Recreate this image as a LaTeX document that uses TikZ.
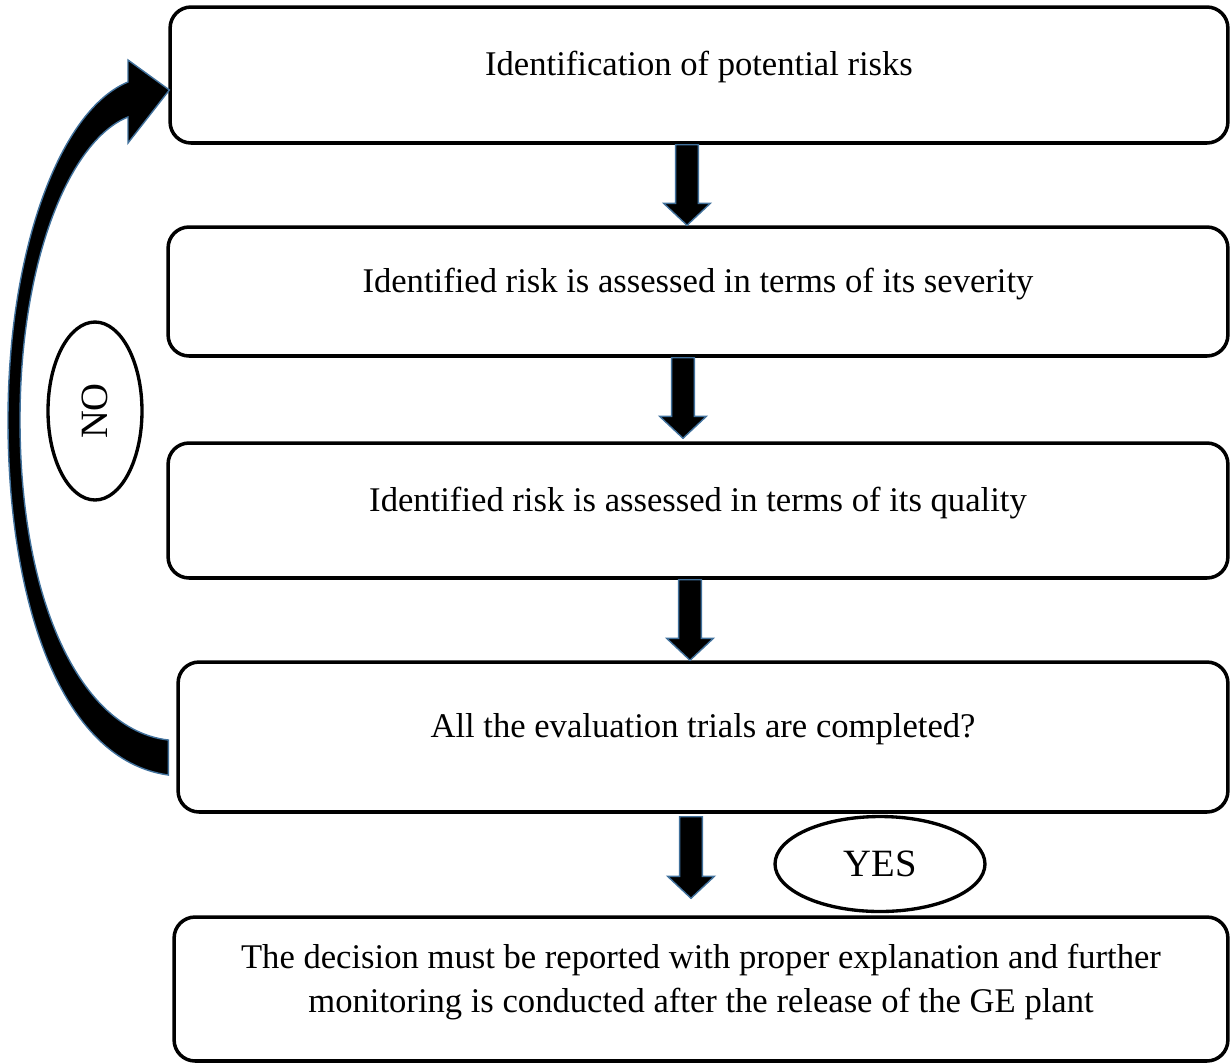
\documentclass[tikz,border=0pt]{standalone}
\usepackage{fontspec}
\setmainfont{Liberation Serif}
\usepackage{tikz}
\usetikzlibrary{calc,shapes.geometric,arrows.meta}

\definecolor{arrowedge}{RGB}{65,113,156}

\tikzset{
    stepbox/.style={draw=black, line width=2pt, rounded corners=0.42cm,
        align=center, font=\fontsize{19.7}{25}\selectfont, inner sep=0pt,
        text height=13.5pt, text depth=12.8pt},
    answer/.style={draw=black, line width=1.9pt, ellipse, inner sep=0pt,
        font=\fontsize{22}{26}\selectfont},
    blockarrow/.style={fill=black, draw=arrowedge, line width=0.8pt, line join=miter}
}

% thick downward arrow between two boxes: from, to, x shift, start and end offsets
\newcommand{\blockdown}[5]{%
    \filldraw[blockarrow] let \p1=($(#1.south)+(#3,#4)$), \p2=($(#2.north)+(#3,#5)$) in
        (\x1-6.5pt,\y1) -- (\x1+6.5pt,\y1) -- (\x1+6.5pt,\y2+12.5pt) -- (\x1+13.3pt,\y2+12.5pt)
        -- (\x1,\y2) -- (\x1-13.3pt,\y2+12.5pt) -- (\x1-6.5pt,\y2+12.5pt) -- cycle;}

\begin{document}
\begin{tikzpicture}[x=0.02cm, y=-0.02cm]
    \useasboundingbox (0,0) rectangle (1231,1063);

    % Boxes
    \node[stepbox, minimum width=21.16cm, minimum height=2.72cm] (ident) at (699,75) {Identification of potential risks};
    \node[stepbox, minimum width=21.2cm, minimum height=2.58cm] (severity) at (698,291.5) {Identified risk is assessed in terms of its severity};
    \node[stepbox, minimum width=21.2cm, minimum height=2.7cm] (quality) at (698,510.5) {Identified risk is assessed in terms of its quality};
    \node[stepbox, minimum width=21.0cm, minimum height=3.0cm] (trials) at (703,737) {All the evaluation trials are completed?};
    \node[stepbox, text height=38.5pt, text depth=11.3pt, minimum width=21.08cm, minimum height=2.88cm] (report) at (701,989) {The decision must be reported with proper explanation and further\\monitoring is conducted after the release of the GE plant};

    % Downward arrows
    \blockdown{ident}{severity}{-12}{0}{0}
    \blockdown{severity}{quality}{-15}{0}{-3}
    \blockdown{quality}{trials}{-8}{0}{0}
    \blockdown{trials}{report}{-12}{3}{-17}

    % Answers
    \node[answer, minimum width=4.2cm, minimum height=1.9cm] (yes) at (880,864) {YES};
    \node[answer, rotate=90, minimum width=3.56cm, minimum height=1.88cm] (no) at (95,411) {NO};

    % Curved feedback arrow
    \coordinate (tip) at ($(ident.west)+(1,15)$);
    \coordinate (tail) at ($(trials.west)+(-8,3)$);
    \filldraw[blockarrow] (tail) -- ++(0,35)
        .. controls (60,760) and (8,600) .. (8,420)
        .. controls (8,250) and (60,110) .. (128,82)
        -- (128,60) -- (tip) -- (128,143) -- (128,117)
        .. controls (70,140) and (20,260) .. (20,420)
        .. controls (20,600) and (80,730) .. (tail) -- cycle;
\end{tikzpicture}
\end{document}
